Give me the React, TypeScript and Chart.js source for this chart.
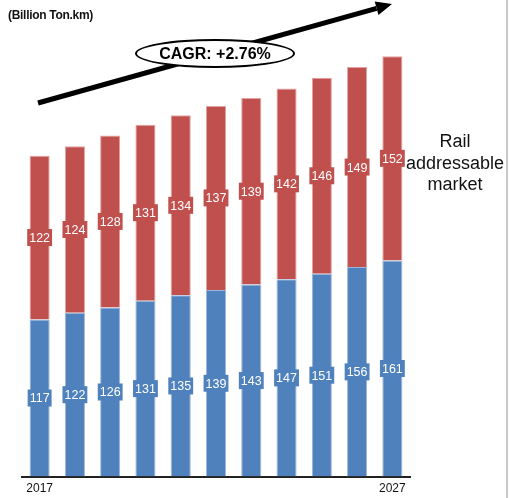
import React, { useEffect, useRef } from "react";
import { Chart, registerables } from "chart.js";

Chart.register(...registerables);

const categories = ["2017", "2018", "2019", "2020", "2021", "2022", "2023", "2024", "2025", "2026", "2027"];
const shownTicks = ["2017", "2027"];
const roadValues = [117, 122, 126, 131, 135, 139, 143, 147, 151, 156, 161];
const railValues = [122, 124, 128, 131, 134, 137, 139, 142, 146, 149, 152];
const seriesNames = ["Segment A", "Rail addressable market"];
const unitLabel = "(Billion Ton.km)";
const cagrLabel = "CAGR: +2.76%";
const sideLabel = ["Rail", "addressable", "market"];

const BLUE = "#4F81BD";
const RED = "#C0504D";

const labelPlugin = {
  id: "boxLabels",
  afterDatasetsDraw(chart: any) {
    const ctx = chart.ctx;
    ctx.save();
    ctx.font = "12.5px Arial, 'Liberation Sans', sans-serif";
    ctx.textAlign = "center";
    ctx.textBaseline = "middle";
    chart.data.datasets.forEach((ds: any, di: number) => {
      const meta = chart.getDatasetMeta(di);
      meta.data.forEach((bar: any, i: number) => {
        const v = ds.data[i];
        const txt = String(v);
        const cy = (bar.y + bar.base) / 2;
        const w = ctx.measureText(txt).width + 4;
        const h = 17;
        ctx.fillStyle = ds.backgroundColor;
        ctx.fillRect(bar.x - w / 2, cy - h / 2, w, h);
        ctx.fillStyle = "#ffffff";
        ctx.fillText(txt, bar.x, cy + 1);
      });
    });
    ctx.restore();
  },
  afterDraw(chart: any) {
    const ctx = chart.ctx;
    ctx.save();
    const x1 = 38, y1 = 103, x2 = 392, y2 = 4;
    const ang = Math.atan2(y2 - y1, x2 - x1);
    const headLen = 16;
    const bx = x2 - headLen * Math.cos(ang);
    const by = y2 - headLen * Math.sin(ang);
    ctx.strokeStyle = "#000";
    ctx.lineWidth = 5;
    ctx.beginPath();
    ctx.moveTo(x1, y1);
    ctx.lineTo(bx, by);
    ctx.stroke();
    ctx.fillStyle = "#000";
    ctx.beginPath();
    ctx.moveTo(x2, y2);
    ctx.lineTo(bx + 7 * Math.sin(ang), by - 7 * Math.cos(ang));
    ctx.lineTo(bx - 7 * Math.sin(ang), by + 7 * Math.cos(ang));
    ctx.closePath();
    ctx.fill();
    ctx.restore();
  },
};

export default function App() {
  const ref = useRef<HTMLCanvasElement>(null);
  useEffect(() => {
    document.body.style.margin = "0";
    const chart = new Chart(ref.current!, {
      type: "bar",
      data: {
        labels: categories,
        datasets: [
          {
            label: seriesNames[0],
            data: roadValues,
            backgroundColor: BLUE,
            borderColor: "#9db5dc",
            borderWidth: 1,
            borderSkipped: "bottom",
          },
          {
            label: seriesNames[1],
            data: railValues,
            backgroundColor: RED,
            borderColor: "#e3a3a1",
            borderWidth: 1,
            borderSkipped: "bottom",
          },
        ],
      },
      options: {
        responsive: false,
        animation: false,
        layout: { padding: { left: 22, right: 100, top: 20, bottom: 4 } },
        datasets: { bar: { categoryPercentage: 1, barPercentage: 0.57 } },
        plugins: { legend: { display: false }, tooltip: { enabled: false } },
        scales: {
          x: {
            stacked: true,
            grid: { display: false, drawTicks: false },
            border: { display: true, color: "#222", width: 2 },
            ticks: {
              autoSkip: false,
              maxRotation: 0,
              padding: 5,
              color: "#111",
              font: { family: "Arial, 'Liberation Sans', sans-serif", size: 12 },
              callback: function (this: any, val: any, idx: number) {
                const l = categories[idx];
                return shownTicks.includes(l) ? l : "";
              },
            },
          },
          y: {
            stacked: true,
            display: false,
            min: 0,
            max: 340,
          },
        },
      },
      plugins: [labelPlugin],
    });
    return () => chart.destroy();
  }, []);

  const font = "Arial, 'Liberation Sans', sans-serif";
  return (
    <div style={{ position: "absolute", left: 0, top: 0, width: 510, height: 498, overflow: "hidden", background: "#fff" }}>
      <canvas ref={ref} width={510} height={505} style={{ position: "absolute", left: 0, top: 0 }} />
      <div
        style={{
          position: "absolute",
          left: 8,
          top: 8,
          fontFamily: font,
          fontWeight: "bold",
          fontSize: 12,
          letterSpacing: -0.3,
          color: "#111",
          whiteSpace: "nowrap",
        }}
      >
        {unitLabel}
      </div>
      <div
        style={{
          position: "absolute",
          left: 135,
          top: 39,
          width: 156,
          height: 25,
          border: "2px solid #000",
          borderRadius: "50%",
          background: "#fff",
          display: "flex",
          alignItems: "center",
          justifyContent: "center",
          fontFamily: font,
          fontWeight: "bold",
          fontSize: 16,
          color: "#000",
          whiteSpace: "nowrap",
        }}
      >
        {cagrLabel}
      </div>
      <div
        style={{
          position: "absolute",
          left: 404,
          top: 131,
          width: 102,
          textAlign: "center",
          fontFamily: font,
          fontSize: 18,
          lineHeight: "21.5px",
          color: "#111",
        }}
      >
        {sideLabel.map((s) => (
          <div key={s}>{s}</div>
        ))}
      </div>
      <div style={{ position: "absolute", left: 506, top: 0, width: 2, height: 498, background: "#c8c8c8" }} />
    </div>
  );
}
